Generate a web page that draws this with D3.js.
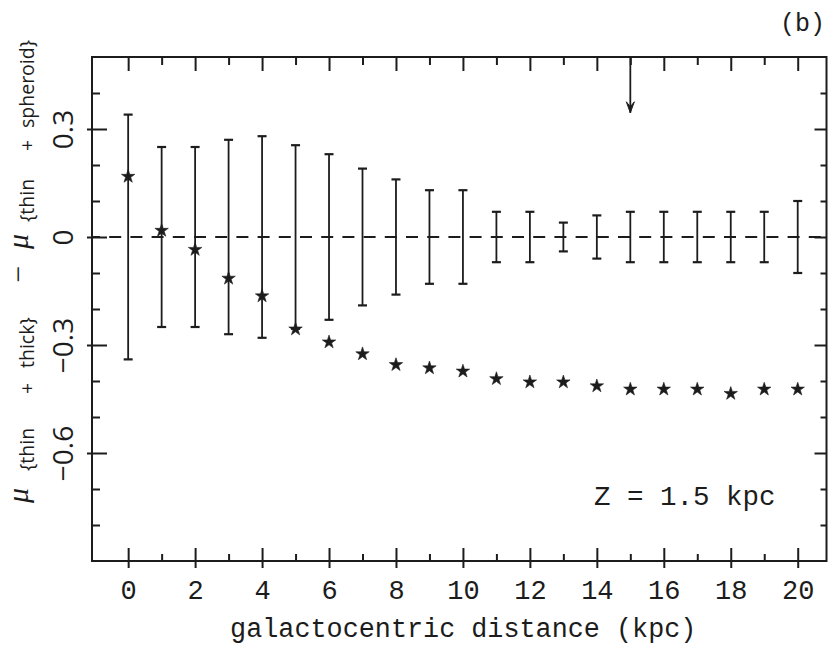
<!DOCTYPE html>
<html>
<head>
<meta charset="utf-8">
<script src="https://cdn.jsdelivr.net/npm/d3@7"></script>
<style>
  html, body { margin: 0; padding: 0; background: #ffffff; }
  svg { display: block; }
</style>
</head>
<body>
<svg id="chart" width="828" height="651"></svg>
<script>
// Galactocentric distance (kpc) of each model point
const distance = [0, 1, 2, 3, 4, 5, 6, 7, 8, 9, 10, 11, 12, 13, 14, 15, 16, 17, 18, 19, 20];
// Difference of mean metallicity: (thin + thick) − (thin + spheroid)
const muDiff = [0.168, 0.018, -0.035, -0.115, -0.164, -0.256, -0.292, -0.325, -0.355, -0.364, -0.373,
                -0.394, -0.403, -0.403, -0.414, -0.423, -0.423, -0.423, -0.435, -0.423, -0.423];
// Half-length of the dispersion bars, drawn about zero
const errHalf = [0.34, 0.25, 0.25, 0.27, 0.28, 0.255, 0.23, 0.19, 0.16, 0.13, 0.13,
                 0.07, 0.07, 0.04, 0.06, 0.07, 0.07, 0.07, 0.07, 0.07, 0.10];
// Axis ticks and labels
const xMajor = [0, 2, 4, 6, 8, 10, 12, 14, 16, 18, 20];
const xMinor = [1, 3, 5, 7, 9, 11, 13, 15, 17, 19];
const yMajor = [-0.6, -0.3, 0, 0.3];
const yMajorLabels = ["−0.6", "−0.3", "0", "0.3"];
const yMinor = [-0.8, -0.7, -0.5, -0.4, -0.2, -0.1, 0.1, 0.2, 0.4];
// Solar-circle marker
const arrowAt = [15];
const arrowTip = [0.345];

const ink = "#1c1c1c";
const svg = d3.select("#chart");

const plotL = 92, plotR = 826.5, plotT = 57, plotB = 561;
const x = d3.scaleLinear().domain([-1.08, 20.86]).range([plotL, plotR]);
const y = d3.scaleLinear().domain([-0.9, 0.5]).range([plotB, plotT]);

const monoFont = "'Liberation Mono', 'DejaVu Sans Mono', monospace";
const sansFont = "'Open Sans', 'Liberation Sans', sans-serif";
const serifFont = "'Liberation Serif', 'DejaVu Serif', serif";

// Frame
svg.append("rect")
  .attr("x", plotL).attr("y", plotT)
  .attr("width", plotR - plotL).attr("height", plotB - plotT)
  .attr("fill", "none").attr("stroke", ink).attr("stroke-width", 2);

function styleAxis(g) {
  g.select(".domain").remove();
  g.selectAll(".tick line").attr("stroke", ink).attr("stroke-width", 2);
}

// Bottom axis: major ticks cross the frame, minor ones point inward
const gBottom = svg.append("g").attr("transform", `translate(0,${plotB})`)
  .call(d3.axisBottom(x).tickValues(xMajor).tickFormat(d3.format("d")).tickSize(0).tickPadding(0));
styleAxis(gBottom);
gBottom.selectAll(".tick line").attr("y1", 7).attr("y2", -13);
gBottom.selectAll(".tick text")
  .attr("y", 38).attr("dy", null)
  .attr("font-family", monoFont).attr("font-size", 27).attr("fill", ink);
const gBottomMinor = svg.append("g").attr("transform", `translate(0,${plotB})`)
  .call(d3.axisBottom(x).tickValues(xMinor).tickFormat("").tickSize(0));
styleAxis(gBottomMinor);
gBottomMinor.selectAll(".tick line").attr("y1", 0).attr("y2", -7);

// Top axis
const gTop = svg.append("g").attr("transform", `translate(0,${plotT})`)
  .call(d3.axisTop(x).tickValues(xMajor).tickFormat("").tickSize(0));
styleAxis(gTop);
gTop.selectAll(".tick line").attr("y1", 0).attr("y2", 14);
const gTopMinor = svg.append("g").attr("transform", `translate(0,${plotT})`)
  .call(d3.axisTop(x).tickValues(xMinor).tickFormat("").tickSize(0));
styleAxis(gTopMinor);
gTopMinor.selectAll(".tick line").attr("y1", 0).attr("y2", 8);

// Left axis with vertical tick labels
const gLeft = svg.append("g").attr("transform", `translate(${plotL},0)`)
  .call(d3.axisLeft(y).tickValues(yMajor).tickFormat((d, i) => yMajorLabels[i]).tickSize(0));
styleAxis(gLeft);
gLeft.selectAll(".tick line").attr("x1", -5).attr("x2", 15);
gLeft.selectAll(".tick text")
  .attr("x", null).attr("dy", null)
  .attr("text-anchor", "middle")
  .attr("transform", "translate(-19,0) rotate(-90)")
  .attr("font-family", sansFont).attr("font-size", 28).attr("fill", ink);
const gLeftMinor = svg.append("g").attr("transform", `translate(${plotL},0)`)
  .call(d3.axisLeft(y).tickValues(yMinor).tickFormat("").tickSize(0));
styleAxis(gLeftMinor);
gLeftMinor.selectAll(".tick line").attr("x1", 0).attr("x2", 8);

// Right axis
const gRight = svg.append("g").attr("transform", `translate(${plotR},0)`)
  .call(d3.axisRight(y).tickValues(yMajor).tickFormat("").tickSize(0));
styleAxis(gRight);
gRight.selectAll(".tick line").attr("x1", 0).attr("x2", -12);
const gRightMinor = svg.append("g").attr("transform", `translate(${plotR},0)`)
  .call(d3.axisRight(y).tickValues(yMinor).tickFormat("").tickSize(0));
styleAxis(gRightMinor);
gRightMinor.selectAll(".tick line").attr("x1", 0).attr("x2", -6);

// Zero reference line
svg.append("line")
  .attr("x1", plotL).attr("x2", plotR)
  .attr("y1", y(0)).attr("y2", y(0))
  .attr("stroke", ink).attr("stroke-width", 2)
  .attr("stroke-dasharray", "12,9.2").attr("stroke-dashoffset", 4);

// Dispersion bars about zero
const rows = distance.map((d, i) => ({ d, v: muDiff[i], e: errHalf[i] }));
const bars = svg.append("g").attr("stroke", ink).attr("stroke-width", 1.8);
bars.selectAll("line.stem").data(rows).join("line").attr("class", "stem")
  .attr("x1", r => x(r.d)).attr("x2", r => x(r.d))
  .attr("y1", r => y(r.e)).attr("y2", r => y(-r.e));
bars.selectAll("line.capTop").data(rows).join("line").attr("class", "capTop")
  .attr("x1", r => x(r.d) - 4.5).attr("x2", r => x(r.d) + 4.5)
  .attr("y1", r => y(r.e)).attr("y2", r => y(r.e)).attr("stroke-width", 2.2);
bars.selectAll("line.capBot").data(rows).join("line").attr("class", "capBot")
  .attr("x1", r => x(r.d) - 4.5).attr("x2", r => x(r.d) + 4.5)
  .attr("y1", r => y(-r.e)).attr("y2", r => y(-r.e)).attr("stroke-width", 2.2);

// Star markers
const star = d3.symbol().type(d3.symbolStar).size(56);
svg.append("g").selectAll("path").data(rows).join("path")
  .attr("d", star)
  .attr("transform", r => `translate(${x(r.d)},${y(r.v)})`)
  .attr("fill", ink).attr("stroke", ink).attr("stroke-width", 0.6);

// Arrow hanging from the top axis
const arrows = svg.append("g");
arrowAt.forEach((a, i) => {
  const ax = x(a), tipY = y(arrowTip[i]);
  arrows.append("line")
    .attr("x1", ax).attr("x2", ax).attr("y1", plotT).attr("y2", tipY)
    .attr("stroke", ink).attr("stroke-width", 1.8);
  arrows.append("path")
    .attr("d", `M${ax - 4},${tipY - 11} L${ax},${tipY} L${ax + 4},${tipY - 11} L${ax},${tipY - 6} Z`)
    .attr("fill", ink).attr("stroke", ink).attr("stroke-width", 1);
});

// Axis titles and annotations
svg.append("text")
  .attr("x", (plotL + plotR) / 2 + 4).attr("y", 637)
  .attr("text-anchor", "middle")
  .attr("font-family", monoFont).attr("font-size", 26.8).attr("fill", ink)
  .text("galactocentric distance (kpc)");

svg.append("text")
  .attr("x", 594).attr("y", 505)
  .attr("font-family", monoFont).attr("font-size", 27.5).attr("fill", ink)
  .attr("xml:space", "preserve")
  .text("Z = 1.5 kpc");

svg.append("text")
  .attr("x", 780).attr("y", 31)
  .attr("font-family", monoFont).attr("font-size", 25).attr("fill", ink)
  .text("(b)");

// Vertical axis title: μ_{thin + thick} − μ_{thin + spheroid}, read bottom to top.
// In the rotated frame, local x runs upward (x = −screen y) and local y is screen x.
const yTitle = svg.append("text")
  .attr("transform", "rotate(-90)")
  .attr("fill", ink);
const muBase = 28, subBase = 34;
const pieces = [
  { t: "μ",       at: 503, base: muBase,  font: serifFont, size: 30, italic: true },
  { t: "{thin ",  at: 471, base: subBase, font: sansFont,  size: 19.5 },
  { t: "+ ",      at: 394, base: subBase, font: sansFont,  size: 19.5 },
  { t: "thick}",  at: 368, base: subBase, font: sansFont,  size: 19.5 },
  { t: " − ",     at: 290, base: muBase,  font: serifFont, size: 30 },
  { t: "μ",       at: 249, base: muBase,  font: serifFont, size: 30, italic: true },
  { t: "{thin ",  at: 222, base: subBase, font: sansFont,  size: 19.5 },
  { t: "+ ",      at: 151, base: subBase, font: sansFont,  size: 19.5 },
  { t: "spheroid}", at: 128, base: subBase, font: sansFont, size: 19.5 }
];
yTitle.selectAll("tspan").data(pieces).join("tspan")
  .attr("x", p => -p.at).attr("y", p => p.base)
  .attr("font-family", p => p.font)
  .attr("font-size", p => p.size)
  .attr("font-style", p => p.italic ? "italic" : "normal")
  .attr("xml:space", "preserve")
  .text(p => p.t);
</script>
</body>
</html>
